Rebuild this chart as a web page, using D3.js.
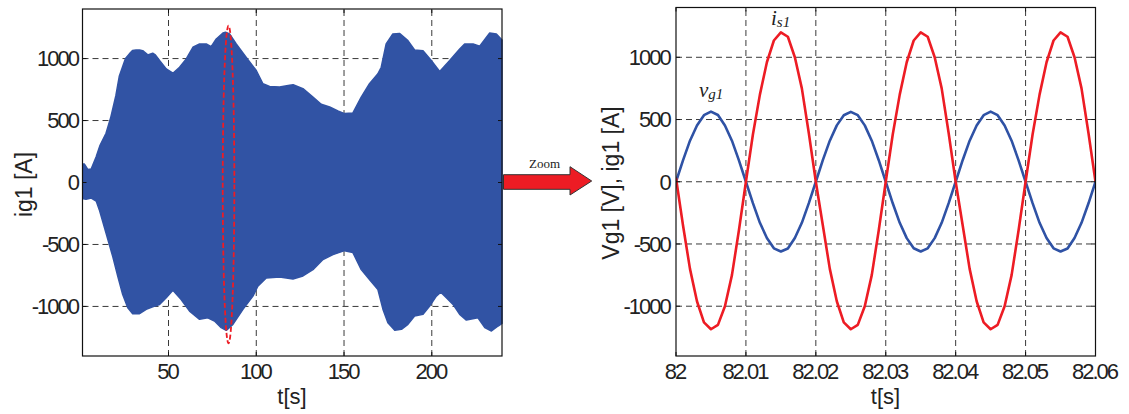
<!DOCTYPE html>
<html><head><meta charset="utf-8">
<script src="https://cdn.jsdelivr.net/npm/d3@7"></script>
<style>html,body{margin:0;padding:0;background:#fff;} svg{display:block;}</style>
</head><body>
<svg id="chart" width="1129" height="414"></svg>
<script>
// ---------- Left panel: ig1 over 240 s (50 Hz band -> envelope) ----------
const envUpperT = [0.8,2,4,6,8.8,11,14.4,17,20,22,24,25.5,27.7,29.5,31.5,33.5,35.3,38.2,41,42.5,44.9,48.7,52.5,56.3,60.1,63.9,67.7,71.5,74.3,77.2,81,82.5,84.8,88.6,94.3,100,103.8,107.6,113.3,119,121,126.6,132.3,137,141.8,146.5,150.3,155,159.8,164.5,169.3,171.2,174,177.8,181.6,186.4,190.2,195,199.7,204.5,210.2,215.9,218.7,223.5,227.3,233,236.8,240];
const envUpperV = [150,150,105,110,207,300,397,520,700,860,940,1000,1038,1065,1070,1070,1064,1030,1043,1030,984,917,882,930,997,1091,1118,1118,1096,1158,1206,1212,1198,1118,1010,904,797,775,770,785,789,757,689,631,609,577,556,560,689,797,877,930,1118,1198,1203,1145,1070,1064,984,896,984,1078,1118,1118,1099,1206,1198,1150];
const envLowerT = [0.8,3,6,8.8,10.6,14.4,18.2,21.1,23.9,26.8,29.6,33.5,37.3,41,44.9,48.7,52.5,57.2,62,67.7,72.4,76.2,80,82.9,86.7,92.4,98.1,100.9,105.7,113.3,120.9,126.6,132.3,138,143.7,150.3,155,159.8,164.5,169.3,172.2,175,178.9,182.7,186.4,190.2,195,198.8,202.6,205.1,208.3,212.1,215.9,219.7,226.3,230.2,234,237.8,240];
const envLowerV = [-130,-135,-125,-150,-221,-408,-596,-757,-904,-1010,-1059,-1059,-1024,-1003,-984,-930,-869,-944,-1038,-1104,-1091,-1118,-1171,-1193,-1145,-1024,-917,-837,-770,-762,-778,-754,-703,-622,-582,-550,-564,-703,-783,-863,-1024,-1131,-1193,-1185,-1145,-1078,-1064,-997,-917,-885,-930,-984,-1064,-1110,-1091,-1171,-1198,-1158,-1137];
const leftXTicks = [50,100,150,200];
const yTicks = [-1000,-500,0,500,1000];
const zoomEllipse = {t:84.2, v:-16, dt:3.3, dv:1281};

// ---------- Right panel: zoom 82 s .. 82.06 s ----------
const zoomT = [82.000,82.001,82.002,82.003,82.004,82.005,82.006,82.007,82.008,82.009,
  82.010,82.011,82.012,82.013,82.014,82.015,82.016,82.017,82.018,82.019,
  82.020,82.021,82.022,82.023,82.024,82.025,82.026,82.027,82.028,82.029,
  82.030,82.031,82.032,82.033,82.034,82.035,82.036,82.037,82.038,82.039,
  82.040,82.041,82.042,82.043,82.044,82.045,82.046,82.047,82.048,82.049,
  82.050,82.051,82.052,82.053,82.054,82.055,82.056,82.057,82.058,82.059,82.060];
const vg1 = [0,172,330,452,535,563,536,452,330,172,
  0,-172,-330,-452,-535,-560,-536,-452,-330,-172,
  0,174,330,453,534,562,535,453,330,173,
  0,-173,-330,-453,-534,-560,-535,-453,-330,-172,
  0,173,330,452,535,563,535,452,330,172,
  0,-172,-330,-452,-535,-560,-536,-452,-330,-173,0];
const is1 = [30,-350,-700,-960,-1130,-1185,-1150,-1000,-750,-390,
  0,380,700,960,1135,1200,1165,1000,750,390,
  0,-350,-700,-960,-1130,-1185,-1150,-1000,-750,-390,
  0,380,700,960,1135,1200,1165,1000,750,390,
  0,-350,-700,-960,-1130,-1185,-1150,-1000,-750,-390,
  0,380,700,960,1135,1200,1165,1000,750,390,0];
const rightXTicks = [82,82.01,82.02,82.03,82.04,82.05,82.06];
const rightXLabels = ["82","82.01","82.02","82.03","82.04","82.05","82.06"];

const FONT = "'Liberation Sans', Arial, Helvetica, sans-serif";
const SERIF = "'Liberation Serif', 'Times New Roman', serif";
const BLUE = "#3153a4", RED = "#ed1c24", GRID = "#3a3a3a";

const svg = d3.select("#chart");

const xL = d3.scaleLinear().domain([1,240]).range([82.5,502]);
const yL = d3.scaleLinear().domain([-1400,1400]).range([356,9]);
const xR = d3.scaleLinear().domain([82,82.06]).range([676,1095.5]);
const yR = d3.scaleLinear().domain([-1400,1400]).range([356,7.5]);

function grid(g, x, y, xt, yt) {
  const [x0,x1] = x.range(), [y0,y1] = y.range();
  g.append("g").selectAll("line").data(xt.filter(d => x(d) > x0+1 && x(d) < x1-1)).join("line")
    .attr("x1", d=>x(d)).attr("x2", d=>x(d)).attr("y1", y0).attr("y2", y1)
    .attr("stroke", GRID).attr("stroke-width", 1).attr("stroke-dasharray", "6,4");
  g.append("g").selectAll("line").data(yt).join("line")
    .attr("x1", x0).attr("x2", x1).attr("y1", d=>y(d)).attr("y2", d=>y(d))
    .attr("stroke", GRID).attr("stroke-width", 1).attr("stroke-dasharray", "6,4");
}

function frame(g, x, y, xt, yt, xlabels, yGap) {
  const [x0,x1] = x.range(), [y0,y1] = y.range();
  const tk = 4;
  const tg = g.append("g").attr("stroke", "#111").attr("stroke-width", 1);
  xt.forEach(d => {
    tg.append("line").attr("x1", x(d)).attr("x2", x(d)).attr("y1", y0).attr("y2", y0-tk);
    tg.append("line").attr("x1", x(d)).attr("x2", x(d)).attr("y1", y1).attr("y2", y1+tk);
  });
  yt.forEach(d => {
    tg.append("line").attr("x1", x0).attr("x2", x0+tk).attr("y1", y(d)).attr("y2", y(d));
    tg.append("line").attr("x1", x1).attr("x2", x1-tk).attr("y1", y(d)).attr("y2", y(d));
  });
  g.append("rect").attr("x", x0).attr("y", y1).attr("width", x1-x0).attr("height", y0-y1)
    .attr("fill", "none").attr("stroke", "#111").attr("stroke-width", 1.2);
  g.append("g").selectAll("text").data(xt).join("text")
    .attr("x", d=>x(d)).attr("y", y0+22.5).attr("dx", -1)
    .attr("text-anchor", "middle").attr("font-family", FONT).attr("font-size", 22)
    .attr("letter-spacing", "-2px").attr("fill", "#222")
    .text((d,i)=>xlabels[i]);
  g.append("g").selectAll("text").data(yt).join("text")
    .attr("x", x0 - yGap).attr("y", d=>y(d)).attr("dy", "0.36em")
    .attr("text-anchor", "end").attr("font-family", FONT).attr("font-size", 22)
    .attr("letter-spacing", "-2px").attr("fill", "#222")
    .text(d=>d);
}

// ----- Left panel -----
const gL = svg.append("g");
svg.append("clipPath").attr("id","clipL").append("rect")
  .attr("x", 82.5).attr("y", 9).attr("width", 421).attr("height", 347);
grid(gL, xL, yL, leftXTicks, yTicks);
const bandPts = envUpperT.map((t,i)=>[t, envUpperV[i]])
  .concat(envLowerT.map((t,i)=>[t, envLowerV[i]]).reverse());
gL.append("path")
  .attr("d", d3.line().x(d=>xL(d[0])).y(d=>yL(d[1]))(bandPts) + "Z")
  .attr("fill", BLUE).attr("stroke", BLUE).attr("stroke-width", 1.5)
  .attr("stroke-linejoin", "round")
  .attr("clip-path", "url(#clipL)");
frame(gL, xL, yL, leftXTicks, yTicks, leftXTicks.map(String), 4.5);
gL.append("ellipse")
  .attr("cx", xL(zoomEllipse.t)).attr("cy", yL(zoomEllipse.v))
  .attr("rx", xL(zoomEllipse.t+zoomEllipse.dt) - xL(zoomEllipse.t))
  .attr("ry", yL(0) - yL(zoomEllipse.dv))
  .attr("fill", "none").attr("stroke", RED).attr("stroke-width", 1.8)
  .attr("stroke-dasharray", "5,2.5");
gL.append("text").attr("transform", "translate(31.5,184.5) rotate(-90)")
  .attr("text-anchor", "middle").attr("font-family", FONT).attr("font-size", 23)
  .attr("fill", "#222").text("ig1 [A]");
gL.append("text").attr("x", 292).attr("y", 404)
  .attr("text-anchor", "middle").attr("font-family", FONT).attr("font-size", 22)
  .attr("fill", "#222").text("t[s]");

// ----- Right panel -----
const gR = svg.append("g");
svg.append("clipPath").attr("id","clipR").append("rect")
  .attr("x", 676).attr("y", 7.5).attr("width", 420).attr("height", 349);
grid(gR, xR, yR, rightXTicks, yTicks);
const lineV = d3.line().x((d,i)=>xR(zoomT[i])).y(d=>yR(d));
gR.append("path").attr("d", lineV(vg1)).attr("fill","none")
  .attr("stroke", "#2f52a5").attr("stroke-width", 2.6).attr("stroke-linejoin","round")
  .attr("clip-path", "url(#clipR)");
gR.append("path").attr("d", lineV(is1)).attr("fill","none")
  .attr("stroke", RED).attr("stroke-width", 2.6).attr("stroke-linejoin","round")
  .attr("clip-path", "url(#clipR)");
frame(gR, xR, yR, rightXTicks, yTicks, rightXLabels, 6.3);
gR.append("text").attr("transform", "translate(618.5,183) rotate(-90)")
  .attr("text-anchor", "middle").attr("font-family", FONT).attr("font-size", 23)
  .attr("fill", "#222").text("Vg1 [V], ig1 [A]");
gR.append("text").attr("x", 885.5).attr("y", 404)
  .attr("text-anchor", "middle").attr("font-family", FONT).attr("font-size", 22)
  .attr("fill", "#222").text("t[s]");

// annotations
const vt = gR.append("text").attr("x", 699).attr("y", 97)
  .attr("font-family", SERIF).attr("font-style", "italic").attr("font-size", 21).attr("fill", "#222");
vt.append("tspan").text("v");
vt.append("tspan").attr("font-size", 15).attr("dy", 2).text("g1");
const it = gR.append("text").attr("x", 771).attr("y", 25)
  .attr("font-family", SERIF).attr("font-style", "italic").attr("font-size", 21).attr("fill", "#222");
it.append("tspan").text("i");
it.append("tspan").attr("font-size", 15).attr("dy", 2).text("s1");

// ----- Zoom arrow -----
const ay = 182;
svg.append("path")
  .attr("d", `M503.5,${ay-7.3} L570,${ay-7.3} L570,${ay-15.3} L591.7,${ay-1} L570,${ay+13} L570,${ay+7.3} L503.5,${ay+7.3} Z`)
  .attr("fill", RED).attr("stroke", "#333").attr("stroke-width", 1);
svg.append("text").attr("x", 529).attr("y", 168)
  .attr("font-family", SERIF).attr("font-size", 13).attr("fill", "#222").text("Zoom");
</script>
</body></html>
